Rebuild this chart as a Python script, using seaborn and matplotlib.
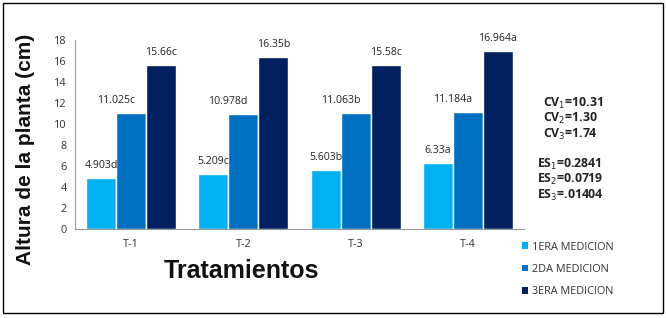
import matplotlib
matplotlib.use("Agg")
import matplotlib.pyplot as plt
import seaborn as sns
import pandas as pd
from matplotlib.patches import Rectangle, Patch

tratamientos = ["T-1", "T-2", "T-3", "T-4"]
series = ["1ERA MEDICION", "2DA MEDICION", "3ERA MEDICION"]
med1 = [4.903, 5.209, 5.603, 6.33]
med2 = [11.025, 10.978, 11.063, 11.184]
med3 = [15.66, 16.35, 15.58, 16.964]
lab1 = ["4.903d", "5.209c", "5.603b", "6.33a"]
lab2 = ["11.025c", "10.978d", "11.063b", "11.184a"]
lab3 = ["15.66c", "16.35b", "15.58c", "16.964a"]
yticks = [0, 2, 4, 6, 8, 10, 12, 14, 16, 18]
cv_text = ["CV$_1$=10.31", "CV$_2$=1.30", "CV$_3$=1.74"]
es_text = ["ES$_1$=0.2841", "ES$_2$=0.0719", "ES$_3$=.01404"]

colors = ["#00B0F0", "#0070C0", "#002060"]

rows = []
for vals, s in zip([med1, med2, med3], series):
    for t, v in zip(tratamientos, vals):
        rows.append({"Tratamiento": t, "Serie": s, "Valor": v})
df = pd.DataFrame(rows)

sns.set_theme(style="white")
plt.rcParams["font.family"] = ["Open Sans", "DejaVu Sans"]

fig = plt.figure(figsize=(6.66, 3.18), dpi=100)
ax = fig.add_axes([75/666, 1-229/318, (524-75)/666, (229-40)/318])

sns.barplot(data=df, x="Tratamiento", y="Valor", hue="Serie", order=tratamientos,
            hue_order=series, palette=colors, width=0.8, saturation=1,
            ax=ax, legend=False)

ax.set_ylim(0, 18)
ax.set_xlim(-0.5, 3.5)
ax.set_yticks(yticks)
ax.tick_params(axis="both", length=0, labelsize=7.8, colors="#333333", pad=6)
ax.tick_params(axis="x", pad=7)
for sp in ["top", "right"]:
    ax.spines[sp].set_visible(False)
for sp in ["left", "bottom"]:
    ax.spines[sp].set_color("#9a9a9a")
    ax.spines[sp].set_linewidth(0.8)

ax.set_xlabel("Tratamientos", fontsize=18, fontweight="bold", family="Liberation Sans",
              color="#111111")
ax.set_ylabel("Altura de la planta (cm)", fontsize=15, fontweight="bold",
              family="Liberation Sans", color="#111111")
ax.yaxis.set_label_coords(-0.088, 0.42)
ax.xaxis.set_label_coords(0.37, -0.16)

offsets = [(0, 5), (-11, 5), (0, 5)]
for cont, labels, off in zip(ax.containers, [lab1, lab2, lab3], offsets):
    for bar, lab in zip(cont, labels):
        ax.annotate(lab, (bar.get_x() + bar.get_width()/2, bar.get_height()),
                    xytext=off, textcoords="offset points", ha="center", va="bottom",
                    fontsize=7.6, color="#222222")

for i, t in enumerate(cv_text):
    fig.text(543/666, 1-(103+15.5*i)/318, t, fontsize=8.8, fontweight="bold",
             color="#222222", va="center", ha="left")
for i, t in enumerate(es_text):
    fig.text(537/666, 1-(164+15.5*i)/318, t, fontsize=8.8, fontweight="bold",
             color="#222222", va="center", ha="left")

handles = [Patch(facecolor=c, edgecolor="none") for c in colors]
fig.legend(handles, series, loc="upper left", bbox_to_anchor=(514/666, 1-234/318),
           frameon=False, fontsize=7.8, handlelength=0.55, handleheight=0.55,
           handletextpad=0.4, labelspacing=1.05, labelcolor="#333333",
           borderpad=0.2)

fig.patches.append(Rectangle((3/666, 1-313/318), 660/666, 310/318,
                             transform=fig.transFigure, fill=False,
                             edgecolor="black", linewidth=1.0))

fig.savefig("out.png", dpi=100)
